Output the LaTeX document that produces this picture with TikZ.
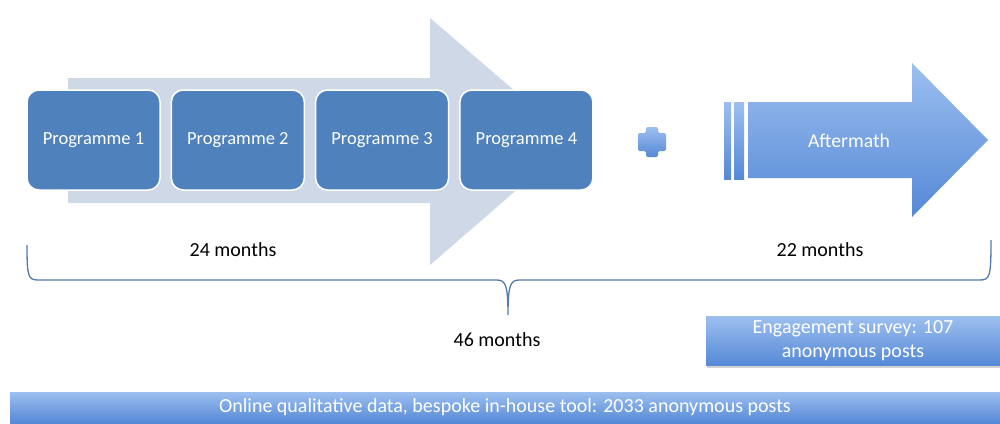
\documentclass[tikz,border=0pt]{standalone}
\usepackage{fontspec}
\setmainfont{Carlito}
\usepackage{xcolor}
\usetikzlibrary{shadows}
\definecolor{progblue}{HTML}{4F81BD}
\definecolor{palearrow}{HTML}{CFD8E7}
\definecolor{gradtop}{HTML}{9CBFEF}
\definecolor{gradbot}{HTML}{5588D6}
\definecolor{bracecol}{HTML}{5479B0}
\tikzset{
  progbox/.style={rectangle, rounded corners=12pt, draw=white, line width=1.5pt,
    fill=progblue, text=white, minimum width=133pt, minimum height=100pt,
    font=\fontsize{18.5}{22}\selectfont},
  gradfill/.style={top color=gradtop, bottom color=gradbot},
  gradbox/.style={gradfill, text=white, inner sep=0pt, align=center,
    font=\fontsize{20}{24}\selectfont},
  monthtext/.style={font=\fontsize{20}{24}\selectfont}
}
\begin{document}
\begin{tikzpicture}[x=1pt,y=-1pt]
\useasboundingbox [fill=white] (0,0) rectangle (1000,423);
\path [fill=palearrow] (68,78) -- (430,78) -- (430,18) -- (573,141) -- (430,265) -- (430,203) -- (68,203) -- cycle;
\foreach \i in {1,...,4}
  \node [progbox] (prog\i) at ({93.5+144.3*(\i-1)},140) {Programme \i};
\path [gradfill, rounded corners=2pt] (646,127) -- (658,127) -- (658,133) -- (666,133) -- (666,151) -- (658,151) -- (658,157) -- (646,157) -- (646,151) -- (638,151) -- (638,133) -- (646,133) -- cycle;
\path [gradfill] (724,102) rectangle (731,179);
\path [gradfill] (734,102) rectangle (744,179);
\path [gradfill] (748,102) -- (912,102) -- (912,63) -- (988,140) -- (912,217) -- (912,178) -- (748,178) -- cycle;
\node [text=white, font=\fontsize{19.7}{22}\selectfont] (aftermath) at (849,141) {Aftermath};
\draw [bracecol, line width=1.3pt] (27,245) .. controls (27,276) and (28,280) .. (38,280) -- (496,280) .. controls (505,280) and (508,283) .. (508,315) .. controls (508,283) and (511,280) .. (520,280) -- (980,280) .. controls (990,280) and (991,276) .. (991,240);
\node [monthtext] (first) at (233,250) {24 months};
\node [monthtext] (after) at (820,250) {22 months};
\node [monthtext] (total) at (497,340) {46 months};
\node [gradbox, drop shadow={shadow xshift=1pt, shadow yshift=-2pt, opacity=.35}, minimum width=294pt, minimum height=49pt] (survey) at (853,341) {Engagement survey: 107\\anonymous posts};
\node [gradbox, minimum width=990pt, minimum height=31pt] (online) at (505,407.5) {Online qualitative data, bespoke in-house tool: 2033 anonymous posts};
\end{tikzpicture}
\end{document}
